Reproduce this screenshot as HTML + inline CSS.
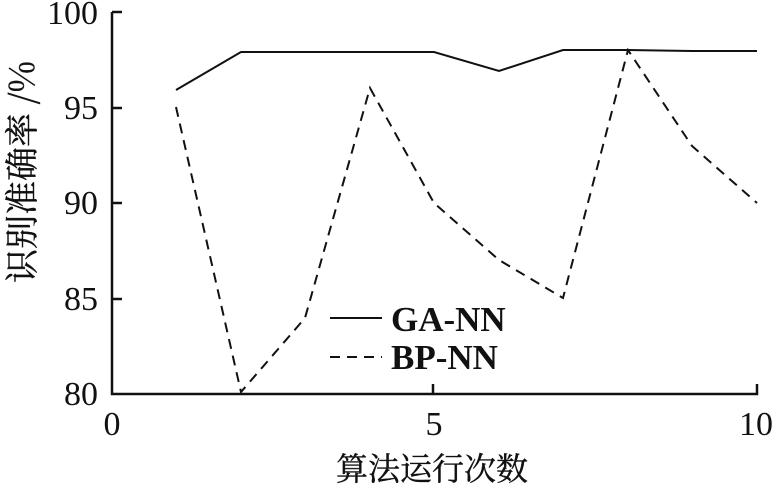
<!DOCTYPE html>
<html><head><style>body{margin:0;background:#fff}
svg text{font-family:"Liberation Serif","Times New Roman",serif}
svg text.cjk{font-family:"Noto Serif CJK SC","Liberation Serif",serif}</style></head><body>
<svg width="774" height="491" xmlns="http://www.w3.org/2000/svg" fill="#111">
<g stroke="#111" stroke-width="2.5" fill="none">
<polyline points="112,12 112,394 757,394 757,384"/>
<line x1="112" y1="12" x2="122" y2="12"/>
<line x1="112" y1="108" x2="122" y2="108"/>
<line x1="112" y1="203" x2="122" y2="203"/>
<line x1="112" y1="299" x2="122" y2="299"/>
<line x1="433" y1="394" x2="433" y2="384"/>
</g>
<g stroke="#111" stroke-width="2" fill="none">
<polyline points="176,90 241,52 305,52 370,52 434,52 499,71 563,50 628,50 692,51 757,51"/>
<polyline stroke-dasharray="10,7" points="176,107 241,392 305,318 370,88 434,203 499,260 563,298 628,50 692,146 757,203"/>
<line x1="330" y1="318" x2="382" y2="318"/>
<line x1="330" y1="357" x2="382" y2="357" stroke-dasharray="10,7"/>
</g>
<g font-size="34" text-anchor="end">
<text x="98" y="24">100</text><text x="98" y="119">95</text><text x="98" y="214">90</text><text x="98" y="310">85</text><text x="98" y="405">80</text>
</g>
<g font-size="34" text-anchor="middle">
<text x="112" y="435">0</text><text x="434" y="435">5</text><text x="756" y="435">10</text>
</g>
<g font-size="35" font-weight="bold">
<text x="391" y="331">GA-NN</text><text x="391" y="369">BP-NN</text>
</g>
<text class="cjk" x="432" y="480" font-size="32" text-anchor="middle" stroke="#111" stroke-width="0.4">算法运行次数</text>
<text class="cjk" transform="translate(34,172) rotate(-90)" font-size="34" text-anchor="middle" stroke="#111" stroke-width="0.4">识别准确率 /%</text>
</svg>
</body></html>
